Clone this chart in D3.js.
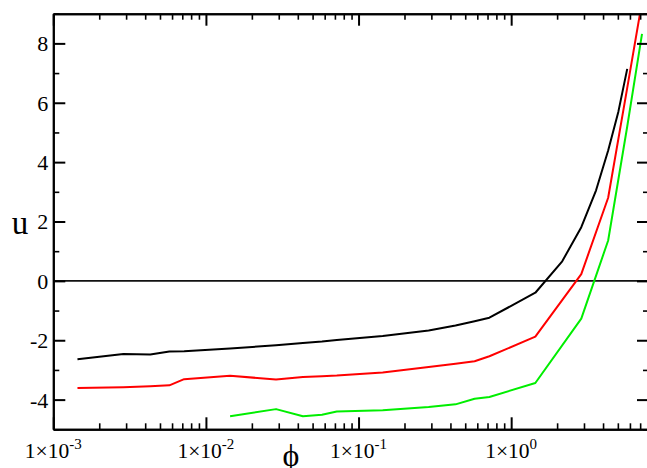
<!DOCTYPE html>
<html>
<head>
<meta charset="utf-8">
<script src="https://cdn.jsdelivr.net/npm/d3@7"></script>
<style>
  html, body { margin: 0; padding: 0; background: #fff; }
  svg { display: block; }
  text { font-family: "Liberation Serif", "Times New Roman", serif; fill: #000; }
</style>
</head>
<body>
<svg id="chart" width="647" height="468"></svg>
<script>
// Volume fraction phi (log axis) and the three u curves
const phiBlack = [0.00144, 0.00288, 0.00432, 0.00576, 0.0072, 0.0144, 0.0288, 0.0432, 0.0576, 0.072,
                  0.144, 0.288, 0.432, 0.576, 0.72, 1.44, 2.16, 2.88, 3.6, 4.32, 5.04, 5.76];
const uBlack   = [-2.64, -2.46, -2.48, -2.38, -2.37, -2.28, -2.17, -2.09, -2.04, -1.99,
                  -1.86, -1.67, -1.50, -1.36, -1.24, -0.40, 0.66, 1.81, 3.05, 4.39, 5.70, 7.14];

const phiRed = [0.00144, 0.00288, 0.00432, 0.00576, 0.0072, 0.0144, 0.0288, 0.0432, 0.0576, 0.072,
                0.144, 0.288, 0.432, 0.576, 0.72, 1.44, 2.88, 4.32, 5.76, 7.2];
const uRed   = [-3.61, -3.58, -3.55, -3.52, -3.31, -3.20, -3.32, -3.24, -3.21, -3.19,
                -3.09, -2.90, -2.79, -2.71, -2.54, -1.88, 0.23, 2.80, 6.50, 9.40];

const phiGreen = [0.0144, 0.0288, 0.0432, 0.0576, 0.072, 0.144, 0.288, 0.432, 0.576, 0.72,
                  1.44, 2.88, 4.32, 5.76, 7.2];
const uGreen   = [-4.56, -4.32, -4.56, -4.51, -4.40, -4.36, -4.25, -4.16, -3.97, -3.91,
                  -3.44, -1.27, 1.36, 5.20, 8.32];

// Axis ticks
const xMajor = [1e-3, 1e-2, 1e-1, 1];
const xExponents = ["-3", "-2", "-1", "0"];
const yMajor = [-4, -2, 0, 2, 4, 6, 8];
const yMinor = [-5, -3, -1, 1, 3, 5, 7, 9];
const xDomain = [1e-3, 8];
const yDomain = [-5, 9];

const series = [
  { phi: phiBlack, u: uBlack, color: "#000000" },
  { phi: phiRed,   u: uRed,   color: "#ff0000" },
  { phi: phiGreen, u: uGreen, color: "#00ee00" }
];

const svg = d3.select("#chart");
const plotL = 53.3, plotR = 649, plotT = 13.7, plotB = 429.3;

const x = d3.scaleLog().domain(xDomain).range([plotL, plotR]);
const y = d3.scaleLinear().domain(yDomain).range([plotB, plotT]);

// minor ticks on the log axis: 2..9 within each decade
const xMinor = [];
for (let e = -3; e <= 0; e++) {
  for (let m = 2; m <= 9; m++) {
    const v = m * Math.pow(10, e);
    if (v <= xDomain[1]) xMinor.push(v);
  }
}

svg.append("defs").append("clipPath").attr("id", "plot-clip")
  .append("rect").attr("x", plotL).attr("y", plotT)
  .attr("width", plotR - plotL).attr("height", plotB - plotT);

// zero reference line
svg.append("line")
  .attr("x1", x(xDomain[0])).attr("x2", x(xDomain[1]))
  .attr("y1", y(0)).attr("y2", y(0))
  .attr("stroke", "#111").attr("stroke-width", 1.6);

// curves
const line = d3.line().x(d => x(d[0])).y(d => y(d[1]));
const curves = svg.append("g").attr("clip-path", "url(#plot-clip)");
series.forEach(s => {
  curves.append("path")
    .datum(s.phi.map((p, i) => [p, s.u[i]]))
    .attr("d", line)
    .attr("fill", "none")
    .attr("stroke", s.color)
    .attr("stroke-width", 2)
    .attr("stroke-linejoin", "round");
});

// axes: frame with inward ticks on every side
function styleAxis(g, width) {
  g.selectAll(".domain").attr("stroke", "#000").attr("stroke-width", 2);
  g.selectAll(".tick line").attr("stroke", "#000").attr("stroke-width", width);
  g.selectAll("text").remove();
}
function addAxis(makeAxis, tx, ty, major, minor) {
  const gMin = svg.append("g").attr("transform", `translate(${tx},${ty})`)
    .call(makeAxis().tickValues(minor).tickSize(-6).tickSizeOuter(0).tickFormat(""));
  styleAxis(gMin, 1.6);
  const gMaj = svg.append("g").attr("transform", `translate(${tx},${ty})`)
    .call(makeAxis().tickValues(major).tickSize(-12).tickSizeOuter(0).tickFormat(""));
  styleAxis(gMaj, 2);
}
addAxis(() => d3.axisBottom(x), 0, plotB, xMajor, xMinor);
addAxis(() => d3.axisTop(x), 0, plotT, xMajor, xMinor);
addAxis(() => d3.axisLeft(y), plotL, 0, yMajor, yMinor);
addAxis(() => d3.axisRight(y), plotR, 0, yMajor, yMinor);

// y tick labels
svg.append("g").selectAll("text").data(yMajor).join("text")
  .attr("x", plotL - 5).attr("y", d => y(d)).attr("dy", "0.36em")
  .attr("text-anchor", "end").attr("font-size", 22)
  .text(d => String(d));

// x tick labels as 1×10^n
const xl = svg.append("g").selectAll("text").data(xMajor).join("text")
  .attr("x", d => x(d)).attr("y", 458)
  .attr("text-anchor", "middle").attr("font-size", 21.5);
xl.append("tspan").text("1×10");
xl.append("tspan").attr("dy", -9).attr("font-size", 15).text((d, i) => xExponents[i]);

// axis titles
svg.append("text").attr("x", 291).attr("y", 466).attr("text-anchor", "middle")
  .attr("font-size", 32).text("ϕ");
svg.append("text").attr("x", 20).attr("y", 234).attr("text-anchor", "middle")
  .attr("font-size", 33).text("u");
</script>
</body>
</html>
